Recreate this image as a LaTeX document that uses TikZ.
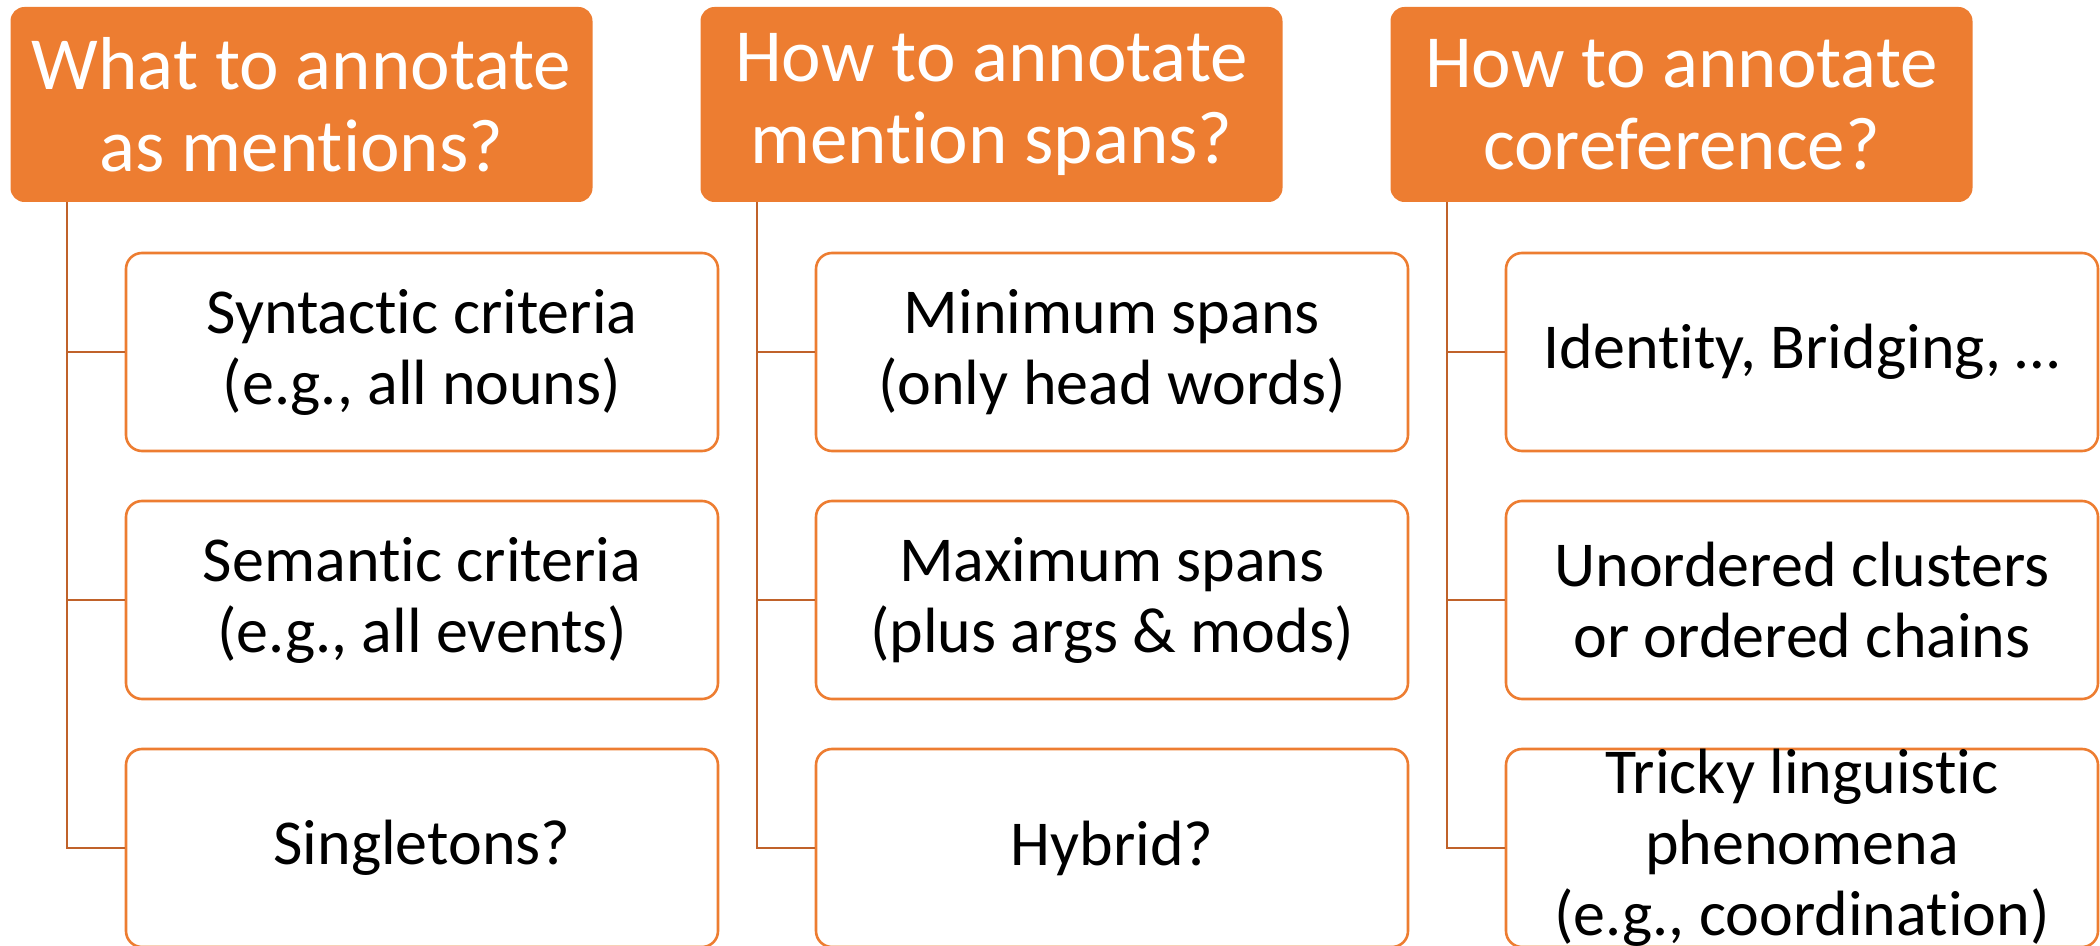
\documentclass[tikz,border=0pt]{standalone}
\usepackage{fontspec}
\setmainfont{Carlito}[Ligatures=NoCommon]
\definecolor{accent}{HTML}{ED7D31}
\definecolor{linkc}{HTML}{C0622A}
\begin{document}
\begin{tikzpicture}[x=0.5pt,y=-0.5pt,
  header/.style={draw=none,fill=accent,rounded corners=7pt,text=white,
    minimum width=291pt,minimum height=97.5pt,inner sep=0pt,align=center,
    font=\fontsize{37.5}{41}\selectfont},
  child/.style={draw=accent,line width=1.3pt,fill=white,rounded corners=8pt,
    minimum width=296pt,minimum height=99pt,inner sep=0pt,align=center,
    font=\fontsize{32}{35.5}\selectfont},
  link/.style={draw=linkc,line width=1.3pt}]
\useasboundingbox (0,0) rectangle (2100,946);
% column 1
\node[header] (h1) at (301.5,104.5) {What to annotate\\as mentions?};
\node[child] (a1) at (422,352) {Syntactic criteria\\(e.g., all nouns)};
\node[child] (a2) at (422,600) {Semantic criteria\\(e.g., all events)};
\node[child] (a3) at (422,848) {Singletons?};
% column 2
\node[header] (h2) at (991.5,104.5) {How to annotate\\mention spans?};
\node[child] (b1) at (1112,352) {Minimum spans\\(only head words)};
\node[child] (b2) at (1112,600) {Maximum spans\\(plus args \& mods)};
\node[child] (b3) at (1112,848) {Hybrid?};
% column 3
\node[header] (h3) at (1681.5,104.5) {How to annotate\\coreference?};
\node[child] (c1) at (1802,352) {Identity, Bridging, …};
\node[child] (c2) at (1802,600) {Unordered clusters\\or ordered chains};
\node[child] (c3) at (1802,848) {Tricky linguistic\\phenomena\\(e.g., coordination)};
% connectors
\foreach \h/\a/\b/\c/\x in {h1/a1/a2/a3/67, h2/b1/b2/b3/757, h3/c1/c2/c3/1447}{
  \coordinate (\h t) at (\x,202);
  \coordinate (\h p1) at (\x,352);
  \coordinate (\h p2) at (\x,600);
  \coordinate (\h p3) at (\x,848);
  \draw[link] (\h t) -- (\h p3) -- (\c.west);
  \draw[link] (\h p1) -- (\a.west);
  \draw[link] (\h p2) -- (\b.west);
}
\end{tikzpicture}
\end{document}
